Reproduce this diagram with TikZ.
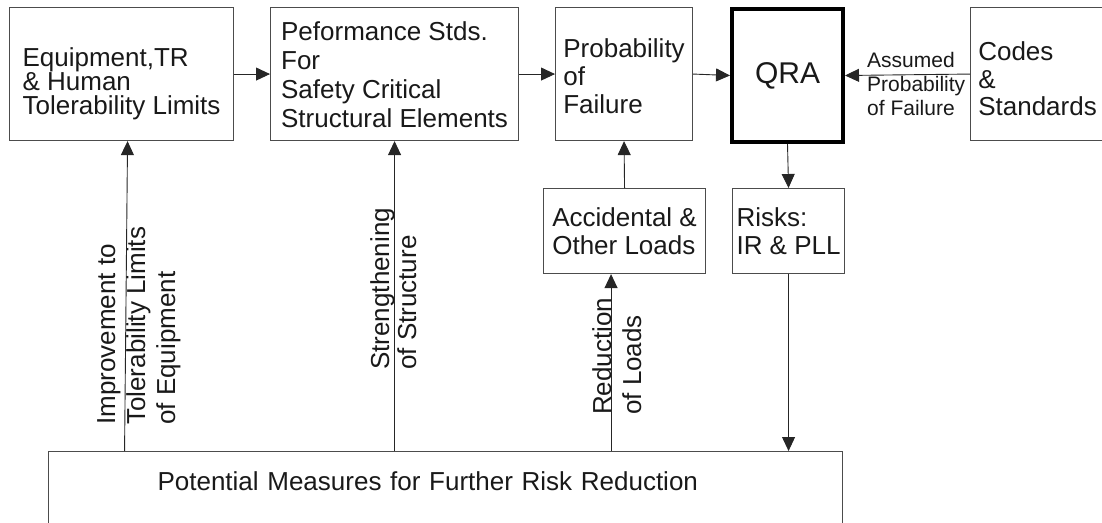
\documentclass[tikz,border=0pt]{standalone}
\usepackage{fontspec}
\setmainfont{Liberation Sans}
\usetikzlibrary{arrows.meta}
\begin{document}
\begin{tikzpicture}[x=1pt, y=-1pt,
  box/.style={draw=black!70, line width=1.1pt, align=left, inner xsep=0pt, inner ysep=0pt,
    anchor=north west, text=black!90, font=\fontsize{26}{28}\selectfont},
  arr/.style={draw=black!85, line width=0.9pt, -{Triangle[width=13pt,length=14pt]}},
  vlab/.style={rotate=90, anchor=north west, align=left, inner sep=0pt, text=black!90,
    font=\fontsize{26}{#1}\selectfont}]
\useasboundingbox (0,0) rectangle (1102,522);
% top row
\node[box, minimum width=224pt, minimum height=133pt, text height=90pt, text depth=9pt,
  font=\fontsize{26}{24}\selectfont] (equip) at (9,7) {Equipment,TR\\\& Human\\Tolerability Limits};
\node[box, minimum width=248pt, minimum height=133pt, text height=110pt, text depth=4pt,
  font=\fontsize{26}{29}\selectfont] (perf) at (270,7) {Peformance Stds.\\For\\Safety Critical\\Structural Elements};
\node[box, minimum width=137pt, minimum height=133pt, text height=84pt, text depth=6pt] (prob) at (555,7) {Probability\\of\\Failure};
\node[box, draw=black, line width=4pt, minimum width=111pt, minimum height=133pt,
  font=\fontsize{30}{34}\selectfont] (qra) at (730,7) {QRA};
\node[box, minimum width=134pt, minimum height=133pt, text height=88pt, text depth=5pt,
  font=\fontsize{26}{27.5}\selectfont] (codes) at (970,7) {Codes\\\&\\Standards};
\node[align=left, inner sep=0pt, anchor=north west, text=black!90,
  font=\fontsize{21}{24}\selectfont] (assumed) at (867,52) {Assumed\\Probability\\of Failure};
% middle row
\node[box, minimum width=162pt, minimum height=85pt] (acc) at (543,188) {Accidental \&\\Other Loads};
\node[box, minimum width=112pt, minimum height=85pt] (risks) at (732,188) {Risks:\\IR \& PLL};
% bottom
\node[box, minimum width=794pt, text width=576pt, inner xsep=109pt, text height=39pt, text depth=60pt]
  (measures) at (48,451) {Potential Measures for Further Risk Reduction};
% measures
\node[vlab=30] (imp) at (97,425) {Improvement to\\Tolerability Limits\\of Equipment};
\node[vlab=27] (str) at (370,370) {Strengthening\\of Structure};
\node[vlab=30] (red) at (592,415) {Reduction\\of Loads};
% arrows
\draw[arr] (equip.east) -- (perf.west);
\draw[arr] (perf.east) -- (prob.west);
\draw[arr] (prob.east) -- (qra.west);
\draw[arr] (codes.west) -- (qra.east);
\draw[arr] (qra.south) -- (risks.north);
\draw[arr] (risks.south) -- (risks.south |- measures.north);
\draw[arr] (acc.north) -- (prob.south);
\draw[arr] ([xshift=3pt]equip.south |- measures.north) -- ([xshift=6pt]equip.south);
\draw[arr] (perf.south |- measures.north) -- (perf.south);
\draw[arr] ([xshift=-13.5pt]acc.south |- measures.north) -- ([xshift=-13.5pt]acc.south);
\end{tikzpicture}
\end{document}
